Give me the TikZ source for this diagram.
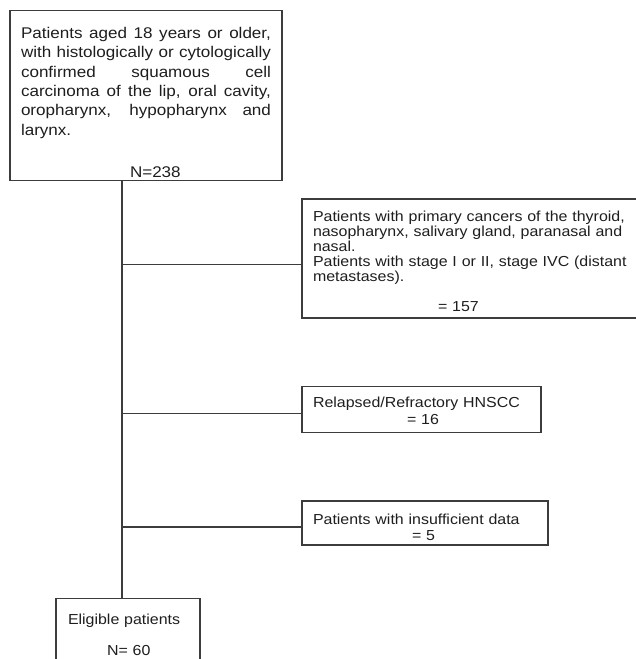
\documentclass[tikz,border=0pt]{standalone}
\usepackage{fontspec}
\setmainfont{Liberation Sans}[FakeStretch=1.1]
\usetikzlibrary{positioning}
\usetikzlibrary{calc}
\definecolor{boxline}{HTML}{3C3C3C}
\definecolor{boxtext}{HTML}{1E1E1E}
\newcommand{\countline}[2]{\\[#1]\hspace*{#2}}

\begin{document}
\begin{tikzpicture}[
        every node/.style={font=\fontsize{14.5}{17}\selectfont, text=boxtext},
        box/.style={rectangle, draw=boxline, line width=1.2pt, inner xsep=11pt, align=left},
        link/.style={draw=boxline, line width=1.1pt}
      ]
      \useasboundingbox (0,0) rectangle (636pt,-659pt);
      \clip (0,0) rectangle (636pt,-659pt);

      \node(all)[box, align=justify, text width=250pt, text height=25pt, minimum height=165pt,
                 font=\fontsize{15.5}{19.3}\selectfont] at (146pt,-95.5pt)
        {Patients aged 18 years or older,\linebreak with histologically or cytologically\linebreak
         confirmed squamous cell\linebreak carcinoma of the lip, oral cavity,\linebreak
         oropharynx, hypopharynx and\linebreak larynx.\countline{23pt}{109pt}N=238};
      \node(exc1)[box, text width=326pt, text height=16.5pt, minimum height=119pt,
                  font=\fontsize{14.5}{15}\selectfont] at (476pt,-258.5pt)
        {Patients with primary cancers of the thyroid,\\ nasopharynx, salivary gland, paranasal and\\
         nasal.\\ Patients with stage I or II, stage IVC (distant\\ metastases).\countline{15pt}{125pt}= 157};
      \node(exc2)[box, text width=217pt, text height=13.5pt, minimum height=46pt] at (421.5pt,-409.5pt)
        {Relapsed/Refractory HNSCC\countline{0pt}{94pt}= 16};
      \node(exc3)[box, text width=224pt, text height=18.5pt, minimum height=44pt] at (425pt,-523pt)
        {Patients with insufficient data\countline{-1pt}{99pt}= 5};
      \node(elig)[box, text width=120pt, inner xsep=12pt, inner ysep=15pt, text depth=60pt,
                  anchor=north] at (128pt,-598pt)
        {Eligible patients\countline{14pt}{39pt}N= 60};

      % trunk and the three exclusion branches
      \coordinate (trunk) at ([xshift=-24pt]all.south);
      \coordinate (in1) at ([yshift=-6pt]exc1.west);
      \coordinate (in2) at ([yshift=-4pt]exc2.west);
      \coordinate (in3) at ([yshift=-4pt]exc3.west);
      \draw[link] (trunk) -- (trunk |- elig.north);
      \draw[link] (in1 -| trunk) -- (in1);
      \draw[link] (in2 -| trunk) -- (in2);
      \draw[link] (in3 -| trunk) -- (in3);
    \end{tikzpicture}
\end{document}
